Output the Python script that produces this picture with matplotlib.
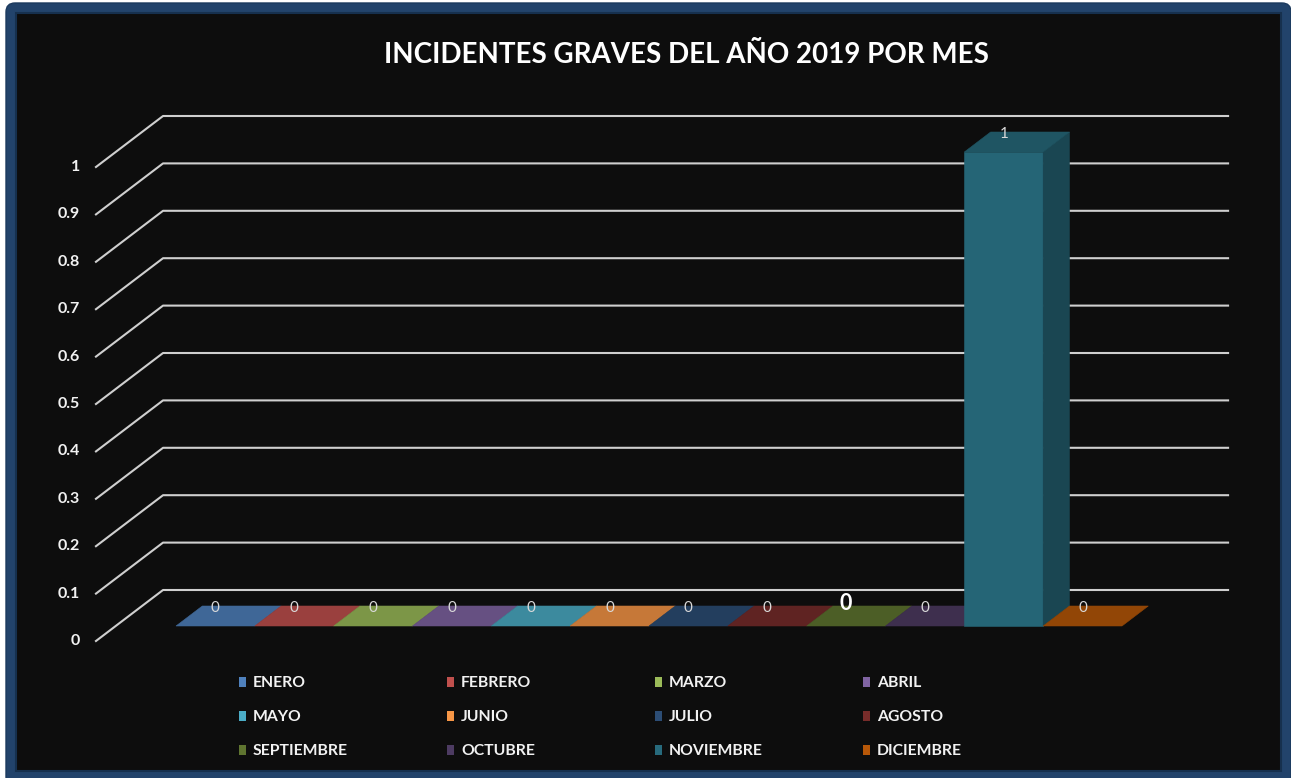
import matplotlib
matplotlib.use("Agg")
import matplotlib.pyplot as plt
from matplotlib.patches import Polygon, Rectangle, FancyBboxPatch
from matplotlib.lines import Line2D
from matplotlib.transforms import IdentityTransform
from matplotlib.colors import to_rgb

# ---- data -------------------------------------------------------------
title = "INCIDENTES GRAVES DEL AÑO 2019 POR MES"
months = ["ENERO", "FEBRERO", "MARZO", "ABRIL", "MAYO", "JUNIO",
          "JULIO", "AGOSTO", "SEPTIEMBRE", "OCTUBRE", "NOVIEMBRE", "DICIEMBRE"]
incidents = [0, 0, 0, 0, 0, 0, 0, 0, 0, 0, 1, 0]
month_colors = ["#4F81BD", "#C0504D", "#9BBB59", "#8064A2", "#4BACC6", "#F79646",
                "#2C4D75", "#772C2A", "#5F7530", "#4D3B62", "#276A7C", "#B65708"]
y_ticks = [0, 0.1, 0.2, 0.3, 0.4, 0.5, 0.6, 0.7, 0.8, 0.9, 1.0]
y_tick_labels = ["0", "0.1", "0.2", "0.3", "0.4", "0.5", "0.6", "0.7", "0.8", "0.9", "1"]

# ---- figure -----------------------------------------------------------
W, H, DPI = 1291, 778, 100
FONT = "Lato"
fig = plt.figure(figsize=(W / DPI, H / DPI), dpi=DPI, facecolor="white")


def frac_box(x0, y0, x1, y1):
    """Pixel box (top-left origin) -> figure fraction rect."""
    return [x0 / W, 1 - y1 / H, (x1 - x0) / W, (y1 - y0) / H]


def disp(x, y):
    """Pixel position (top-left origin) -> display coords."""
    return x, H - y


# frame: dark blue rounded border and near-black panel
outer = FancyBboxPatch(disp(6, 786), 1285, 783,
                       boxstyle="round,pad=0,rounding_size=9",
                       transform=IdentityTransform(), facecolor="#22436B",
                       edgecolor="#1C3A5E", linewidth=1.0, zorder=-20)
inner = Rectangle(disp(16, 771), 1265, 758, transform=IdentityTransform(),
                  facecolor="#0D0D0D", edgecolor="#16304E", linewidth=1.5,
                  zorder=-19)
fig.add_artist(outer)
fig.add_artist(inner)

# plotting plane = front plane of the columns
ax = fig.add_axes(frac_box(176, 152, 1122, 626))
ax.set_xlim(0, len(months))
ax.set_ylim(0, 1)
ax.axis("off")

DEPTH_DX, DEPTH_DY = 26.3, 20.0     # pixel shift for one column depth
WALL_D, FRONT_D = 1.8, -0.75        # depth of back wall / front edge
WALL_LEFT, WALL_RIGHT = -0.765, 12.745


def proj(x, v, d):
    X, Y = ax.transData.transform((x, v))
    return (X + d * DEPTH_DX, Y + d * DEPTH_DY)


def poly(points, color, z):
    p = Polygon(points, closed=True, transform=IdentityTransform(),
                facecolor=color, edgecolor=color, linewidth=0.4,
                zorder=z, clip_on=False)
    ax.add_patch(p)


def shade(color, f):
    r, g, b = to_rgb(color)
    return (r * f, g * f, b * f)


# gridlines on back wall with receding left edges
for v in y_ticks:
    pts = [proj(WALL_LEFT, v, FRONT_D), proj(WALL_LEFT, v, WALL_D),
           proj(WALL_RIGHT, v, WALL_D)]
    ax.add_line(Line2D([p[0] for p in pts], [p[1] for p in pts],
                       transform=IdentityTransform(), color="#CFCFCF",
                       linewidth=1.5, solid_joinstyle="round",
                       clip_on=False, zorder=1))

pt = 72 / DPI
for v, lab in zip(y_ticks, y_tick_labels):
    ax.annotate(lab, xy=(WALL_LEFT, v), xycoords="data",
                xytext=((FRONT_D * DEPTH_DX - 16) * pt, FRONT_D * DEPTH_DY * pt),
                textcoords="offset points", ha="right", va="center",
                fontsize=11.5, fontweight="bold", color="#F2F2F2",
                family=FONT, annotation_clip=False)

# 3-D columns
for i, (v, c) in enumerate(zip(incidents, month_colors)):
    x0, x1 = i, i + 1
    if v > 0:
        poly([proj(x0, 0, 0), proj(x1, 0, 0), proj(x1, v, 0), proj(x0, v, 0)],
             shade(c, 0.95), 3)
        poly([proj(x1, 0, 0), proj(x1, 0, 1), proj(x1, v, 1), proj(x1, v, 0)],
             shade(c, 0.66), 3)
    poly([proj(x0, v, 0), proj(x1, v, 0), proj(x1, v, 1), proj(x0, v, 1)],
         shade(c, 0.8), 3)

# value labels
for i, v in enumerate(incidents):
    big = months[i] == "SEPTIEMBRE"
    ax.annotate(f"{v:g}", xy=(i + 0.5, v), xycoords="data",
                xytext=(0, (DEPTH_DY - (-2 if big else 1.5)) * pt),
                textcoords="offset points", ha="center", va="center",
                fontsize=15.5 if big else 11,
                fontweight="bold" if big else "normal",
                color="white" if big else "#D9D9D9",
                family=FONT, annotation_clip=False, zorder=5)

# title
renderer = fig.canvas.get_renderer()
t = fig.text(686 / W, 1 - 55 / H, title, ha="center", va="center",
             color="white", fontweight="bold", fontsize=20, family=FONT)
t.set_fontsize(20 * 603 / t.get_window_extent(renderer).width)

# legend, 4 columns x 3 rows
leg_texts = []
for i, (name, c) in enumerate(zip(months, month_colors)):
    row, col = divmod(i, 4)
    xm, ym = 239 + 208 * col, 682 + 34 * row
    fig.add_artist(Rectangle(disp(xm, ym + 5), 7, 10,
                             transform=IdentityTransform(), facecolor=c,
                             edgecolor="none"))
    leg_texts.append(fig.text((xm + 14) / W, 1 - (ym + 1) / H, name, ha="left",
                              va="center", color="#F2F2F2", fontweight="bold",
                              fontsize=10, family=FONT))
w_sep = leg_texts[months.index("SEPTIEMBRE")].get_window_extent(renderer).width
for txt in leg_texts:
    txt.set_fontsize(10 * 95 / w_sep)

fig.savefig("out.png", dpi=DPI, facecolor="white")
